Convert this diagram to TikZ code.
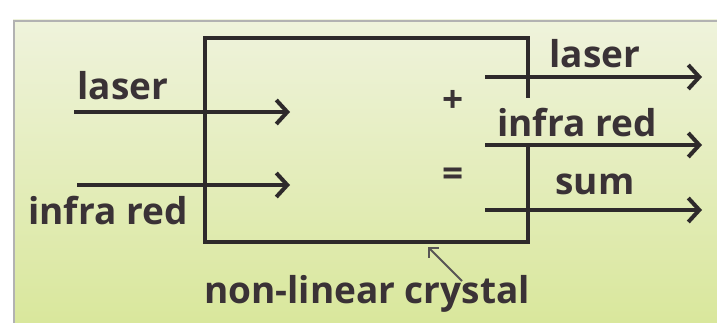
\documentclass[tikz,border=0pt]{standalone}
\usepackage{fontspec}
\setmainfont{Open Sans}
\usetikzlibrary{arrows.meta}
\definecolor{panelTop}{HTML}{EFF3DC}
\definecolor{panelBot}{HTML}{D9E79C}
\definecolor{ink}{HTML}{2E2A2B}
\definecolor{txt}{HTML}{3A3236}
\tikzset{
  lbl/.style={font=\bfseries\fontsize{37}{40}\selectfont, text=txt, inner sep=0pt},
  beam/.style={draw=ink, line width=4pt,
    -{Straight Barb[length=11pt,width=24pt,line width=4pt]}},
  crystal/.style={draw=ink, line width=4pt, line join=miter}
}
\begin{document}
\begin{tikzpicture}[x=1pt,y=-1pt]
  \useasboundingbox (0,0) rectangle (717,323);
  \fill[white] (0,0) rectangle (717,323);
  % panel
  \fill[top color=panelTop, bottom color=panelBot] (13,20) rectangle (717,323);
  \draw[gray!60, line width=2pt] (14,323) -- (14,21) -- (717,21);
  % crystal
  \coordinate (c1) at (528,98);
  \coordinate (c2) at (528,38);
  \coordinate (c3) at (205,38);
  \coordinate (c4) at (205,242);
  \coordinate (c5) at (528,242);
  \coordinate (c6) at (528,145);
  \draw[crystal] (c1) -- (c2) -- (c3) -- (c4) -- (c5) -- (c6);
  % input beams
  \coordinate (inA) at (74,112);
  \coordinate (inAend) at (290,112);
  \coordinate (inB) at (77,185);
  \coordinate (inBend) at (290,185);
  \draw[beam] (inA) -- (inAend);
  \draw[beam] (inB) -- (inBend);
  \node[lbl] (inAlbl) at (123,86) {laser};
  \node[lbl] (inBlbl) at (108,211) {infra red};
  % output beams
  \coordinate (outA) at (485,77);
  \coordinate (outAend) at (702,77);
  \coordinate (outB) at (485,145);
  \coordinate (outBend) at (702,145);
  \coordinate (outC) at (485,210);
  \coordinate (outCend) at (702,210);
  \draw[beam] (outA) -- (outAend);
  \draw[beam] (outB) -- (outBend);
  \draw[beam] (outC) -- (outCend);
  \node[lbl] (outAlbl) at (595,54) {laser};
  \node[lbl] (outBlbl) at (577,123) {infra red};
  \node[lbl] (outClbl) at (595,184) {sum};
  \node[lbl] (plus) at (453,101) {+};
  \node[lbl] (eq) at (453,177) {=};
  % label of the crystal
  \node[lbl] (xtal) at (367,294) {non-linear crystal};
  \coordinate (xtalFrom) at (462,281);
  \coordinate (xtalTip) at (428,247);
  \draw[draw=ink!80, line width=2pt, -{Straight Barb[length=7pt,width=14pt,line width=2pt]}]
    (xtalFrom) -- (xtalTip);
\end{tikzpicture}
\end{document}
